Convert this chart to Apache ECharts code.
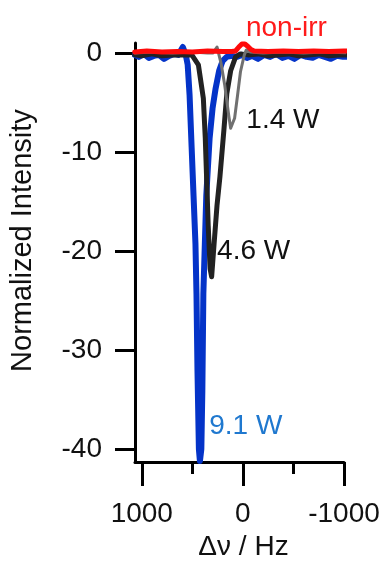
<!DOCTYPE html>
<html><head><meta charset="utf-8">
<script src="https://cdn.jsdelivr.net/npm/echarts@6/dist/echarts.min.js"></script>
<style>html,body{margin:0;padding:0;background:#fff}#c{width:385px;height:566px}</style>
</head><body><div id="c"></div>
<script>
// 9.1 W (blue)
const freq91 = [1070,1030,980,930,880,830,780,730,680,640,623,594,565,546,527,507,488,469,459,449,435,425,411,401,391,362,329,300,270,235,200,160,110,60,10,-40,-90,-150,-210,-270,-330,-390,-450,-510,-570,-630,-690,-750,-810,-870,-930,-990,-1050];
const int91  = [-0.2,-0.4,-0.1,-0.5,-0.3,-0.2,-0.6,-0.3,-0.1,-0.2,0.1,0.6,-0.2,-1.2,-4.3,-9.5,-14.4,-19.3,-24.3,-32.1,-40,-41.2,-40,-34.1,-24.3,-14.4,-8.6,-5.6,-3.6,-1.8,-0.8,-0.4,-0.3,-0.4,-0.2,-0.5,-0.3,-0.6,-0.2,-0.4,-0.1,-0.5,-0.3,-0.6,-0.2,-0.4,-0.5,-0.2,-0.4,-0.6,-0.3,-0.4,-0.4];
// 4.6 W (black)
const freq46 = [1070,1000,900,800,700,600,505,440,391,372,343,324,309,285,256,227,188,159,121,72,24,-50,-150,-250,-350,-450,-550,-650,-750,-850,-950,-1050];
const int46  = [-0.2,-0.3,-0.1,-0.3,-0.2,-0.2,-0.2,-1.2,-4.6,-8.6,-17.4,-21.8,-22.6,-19.3,-15.4,-12.5,-7.8,-4.1,-1.8,-0.4,-0.1,-0.2,-0.1,-0.3,-0.2,-0.1,-0.3,-0.2,-0.1,-0.3,-0.2,-0.2];
// 1.4 W (grey)
const freq14 = [1070,900,700,500,350,295,256,217,179,140,121,82,53,24,-14,-34,-72,-200,-400,-600,-800,-1050];
const int14  = [0,0.1,0,0.1,0,0,0.6,-1.0,-3.3,-6.3,-7.6,-6.6,-4.3,-1.9,-0.2,0.3,0.1,0,0.1,0,0.1,0];
// non-irr (red)
const freqNon = [1070,950,800,650,500,350,200,110,72,40,10,-20,-50,-80,-111,-250,-400,-550,-700,-850,-1000,-1050];
const intNon  = [0.1,0.2,0.1,0.15,0.1,0.2,0.15,0.15,0.2,0.6,0.9,0.9,0.65,0.35,0.2,0.15,0.2,0.15,0.2,0.15,0.2,0.2];

const xTicks = [-1000, 0, 1000];
const xMinorTicks = [-500, 500];
const yTicks = [-40, -30, -20, -10, 0];

const labels = [
  {text: 'non-irr', x: -30, y: 2.46, color: '#ff1a1a'},
  {text: '1.4 W', x: -34, y: -6.8, color: '#111111'},
  {text: '4.6 W', x: 255, y: -20.0, color: '#111111'},
  {text: '9.1 W', x: 333, y: -37.7, color: '#1f78cf'}
];

const FONT = '"Liberation Sans", Arial, sans-serif';
const pairs = (f, v) => f.map((x, i) => [x, v[i]]);

const chart = echarts.init(document.getElementById('c'), null, {renderer: 'canvas'});
const axisColor = '#000';
chart.setOption({
  animation: false,
  backgroundColor: '#fff',
  grid: {left: 130, top: 43, width: 214, height: 430, containLabel: false},
  xAxis: [{
    type: 'value', inverse: true, min: -1000, max: 1067, position: 'bottom',
    axisLine: {show: true, onZero: false, lineStyle: {color: axisColor, width: 3}},
    axisTick: {show: true, length: 24, lineStyle: {color: axisColor, width: 3}, customValues: xTicks},
    axisLabel: {show: true, margin: 38, fontSize: 28, color: '#111', fontFamily: FONT, customValues: xTicks,
      formatter: v => String(v)},
    splitLine: {show: false},
    name: 'Δν / Hz', nameLocation: 'middle', nameGap: 70,
    nameTextStyle: {fontSize: 28, color: '#111', fontFamily: FONT, padding: [0, 0, 0, 8]}
  }, {
    type: 'value', inverse: true, min: -1000, max: 1067, position: 'bottom',
    axisLine: {show: false, onZero: false},
    axisTick: {show: true, length: 12, lineStyle: {color: axisColor, width: 3}, customValues: xMinorTicks},
    axisLabel: {show: false},
    splitLine: {show: false}
  }],
  yAxis: {
    type: 'value', min: -41.3, max: 1,
    axisLine: {show: true, onZero: false, lineStyle: {color: axisColor, width: 3}},
    axisTick: {show: true, length: 20, lineStyle: {color: axisColor, width: 3}, customValues: yTicks},
    axisLabel: {show: true, margin: 33, fontSize: 28, color: '#111', fontFamily: FONT, customValues: yTicks},
    splitLine: {show: false},
    name: 'Normalized Intensity', nameLocation: 'middle', nameGap: 98, nameRotate: 90,
    nameTextStyle: {fontSize: 29, color: '#111', fontFamily: FONT, padding: [0, 0, 0, 24]}
  },
  series: [
    {name: '9.1 W', type: 'line', data: pairs(freq91, int91), showSymbol: false, symbol: 'none', clip: false,
      lineStyle: {color: '#0433c8', width: 6, join: 'round', cap: 'round'}, z: 2},
    {name: '4.6 W', type: 'line', data: pairs(freq46, int46), showSymbol: false, symbol: 'none', clip: false,
      lineStyle: {color: '#222222', width: 5, join: 'round', cap: 'round'}, z: 3},
    {name: '1.4 W', type: 'line', data: pairs(freq14, int14), showSymbol: false, symbol: 'none', clip: false,
      lineStyle: {color: '#707070', width: 3, join: 'round', cap: 'round'}, z: 4},
    {name: 'non-irr', type: 'line', data: pairs(freqNon, intNon), showSymbol: false, symbol: 'none', clip: false,
      lineStyle: {color: '#ff0a0a', width: 5, join: 'round', cap: 'round'}, z: 5}
  ]
});

const g = labels.map(l => {
  const p = chart.convertToPixel({xAxisIndex: 0, yAxisIndex: 0}, [l.x, l.y]);
  return {type: 'text', x: p[0], y: p[1], z: 10,
    style: {text: l.text, fill: l.color, fontSize: 28, fontFamily: FONT, align: 'left', verticalAlign: 'middle'}};
});
chart.setOption({graphic: g});
</script>
</body></html>
